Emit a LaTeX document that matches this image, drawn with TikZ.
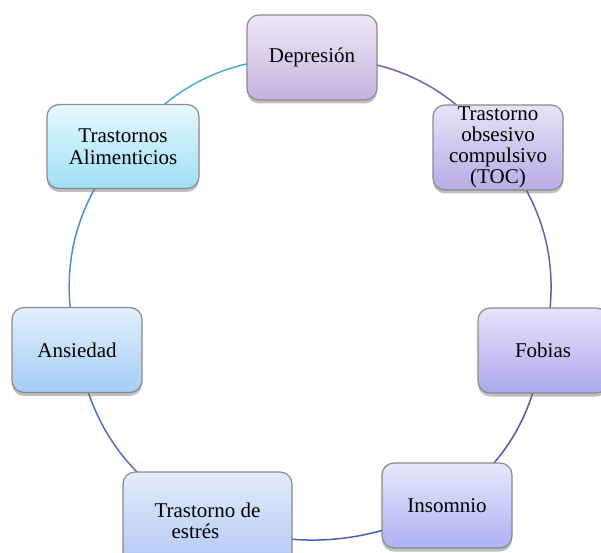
\documentclass[tikz,border=0pt]{standalone}
\usepackage{fontspec}
\setmainfont{Liberation Serif}
\usetikzlibrary{shadows,backgrounds}
\definecolor{bord}{HTML}{8A8A8A}
\definecolor{depT}{HTML}{EEE6F6}\definecolor{depB}{HTML}{C6B3E0}
\definecolor{tocT}{HTML}{E8E2F7}\definecolor{tocB}{HTML}{B8ACE6}
\definecolor{fobT}{HTML}{E6E2FA}\definecolor{fobB}{HTML}{B0A8EE}
\definecolor{insT}{HTML}{E6E8FC}\definecolor{insB}{HTML}{AEB2F2}
\definecolor{estT}{HTML}{E4ECFC}\definecolor{estB}{HTML}{B0C6F4}
\definecolor{ansT}{HTML}{E2F0FC}\definecolor{ansB}{HTML}{A6CCF6}
\definecolor{aliT}{HTML}{E6F8FE}\definecolor{aliB}{HTML}{9EDFF6}
\definecolor{cA}{HTML}{4BACC6}
\definecolor{cB}{HTML}{7B5EA8}
\definecolor{cC}{HTML}{6F5AAA}
\definecolor{cD}{HTML}{5C52AC}
\definecolor{cE}{HTML}{4C5EB8}
\definecolor{cF}{HTML}{4A72BE}
\definecolor{cG}{HTML}{4B8EC6}
\begin{document}
\begin{tikzpicture}[x=1pt,y=1pt,
  box/.style={draw=bord, line width=1.2pt, rounded corners=12pt,
    minimum width=130pt, minimum height=85pt, inner sep=0pt, align=center,
    font=\fontsize{21}{21.5}\selectfont,
    drop shadow={shadow xshift=0pt, shadow yshift=-3.5pt, opacity=0.45, fill=black!55}},
  ring/.style={line width=1.5pt}]
\useasboundingbox (0,0) rectangle (601,552);
\clip (0,0) rectangle (601,552);
\node[box, top color=depT, bottom color=depB] (dep) at (312,494.5) {Depresión};
\node[box, top color=tocT, bottom color=tocB, font=\fontsize{21}{21}\selectfont] (toc) at (498,404.5) {Trastorno\\obsesivo\\compulsivo\\(TOC)};
\node[box, top color=fobT, bottom color=fobB] (fob) at (543,201.5) {Fobias};
\node[box, top color=insT, bottom color=insB] (ins) at (447,46.5) {Insomnio};
\node[box, top color=estT, bottom color=estB, minimum width=169pt, minimum height=98pt, align=left] (est) at (207.5,31) {Trastorno de\\\hspace*{17pt}estrés};
\node[box, top color=ansT, bottom color=ansB] (ans) at (77,202) {Ansiedad};
\node[box, top color=aliT, bottom color=aliB, minimum width=152pt, minimum height=84pt] (ali) at (123,405.5) {Trastornos\\Alimenticios};
\begin{pgfonlayer}{background}
\draw[ring, cA] (ali.center) to[bend left=25.8] (dep.center);
\draw[ring, cB] (dep.center) to[bend left=25.35] (toc.center);
\draw[ring, cC] (toc.center) to[bend left=25.75] (fob.center);
\draw[ring, cD] (fob.center) to[bend left=21.9] (ins.center);
\draw[ring, cE] (ins.center) to[bend left=22] (est.center);
\draw[ring, cF] (est.center) to[bend left=26.35] (ans.center);
\draw[ring, cG] (ans.center) to[bend left=25.75] (ali.center);
\end{pgfonlayer}
\end{tikzpicture}
\end{document}
